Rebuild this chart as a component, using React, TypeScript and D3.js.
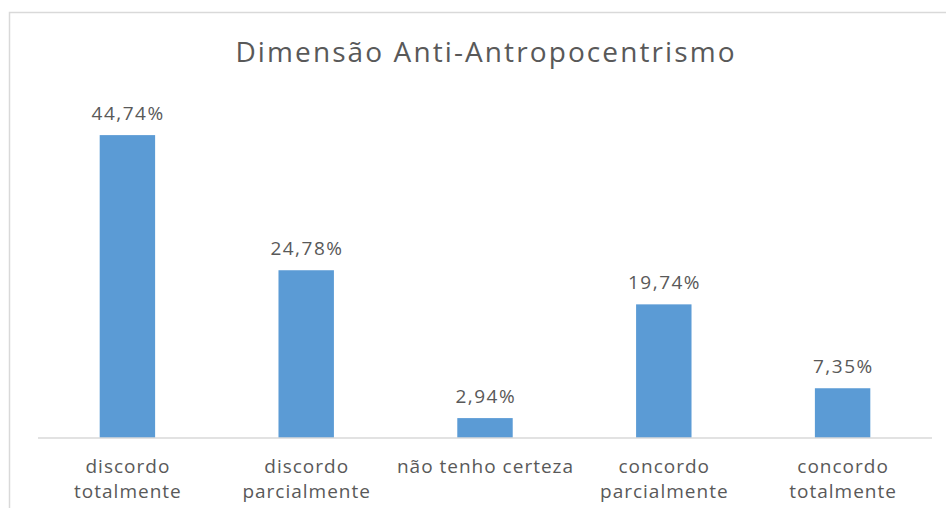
import React from "react";
import * as d3 from "d3";

const categories: string[][] = [
  ["discordo", "totalmente"],
  ["discordo", "parcialmente"],
  ["não tenho certeza"],
  ["concordo", "parcialmente"],
  ["concordo", "totalmente"],
];
const values: number[] = [44.74, 24.78, 2.94, 19.74, 7.35];
const valueLabels: string[] = ["44,74%", "24,78%", "2,94%", "19,74%", "7,35%"];
const title = "Dimensão Anti-Antropocentrismo";

const W = 946;
const H = 508;
const FONT = "'Open Sans', 'DejaVu Sans', sans-serif";
const TEXT = "#595959";

export default function App() {
  const x = d3
    .scaleBand<number>()
    .domain(d3.range(values.length))
    .range([38, 932])
    .paddingInner(0.69)
    .paddingOuter(0.345);
  const y = d3.scaleLinear().domain([0, 50]).range([438, 99.5]);
  const bw = x.bandwidth();
  const titleLS = 2.1;
  const valLS = 1.5;
  const catLS = 1;

  return (
    <svg
      width={W}
      height={H}
      style={{ position: "absolute", left: 0, top: 0, background: "#fff" }}
    >
      <rect x={9.5} y={12.5} width={W} height={H} fill="#fff" stroke="#d9d9d9" strokeWidth={1.5} />
      <text
        x={485 + titleLS / 2}
        y={62}
        textAnchor="middle"
        fontFamily={FONT}
        fontSize={28}
        letterSpacing={titleLS}
        fill={TEXT}
      >
        {title}
      </text>
      {values.map((v, i) => (
        <g key={i}>
          <rect x={x(i)} y={y(v)} width={bw} height={y(0) - y(v)} fill="#5b9bd5" />
          <text
            x={(x(i) as number) + bw / 2 + valLS / 2}
            y={y(v) - 15}
            textAnchor="middle"
            fontFamily={FONT}
            fontSize={19}
            letterSpacing={valLS}
            fill={TEXT}
          >
            {valueLabels[i]}
          </text>
          {categories[i].map((line, j) => (
            <text
              key={j}
              x={(x(i) as number) + bw / 2 + catLS / 2}
              y={473 + j * 25}
              textAnchor="middle"
              fontFamily={FONT}
              fontSize={19}
              letterSpacing={catLS}
              fill={TEXT}
            >
              {line}
            </text>
          ))}
        </g>
      ))}
      <line x1={38} x2={932} y1={438} y2={438} stroke="#d9d9d9" strokeWidth={1.5} />
    </svg>
  );
}
